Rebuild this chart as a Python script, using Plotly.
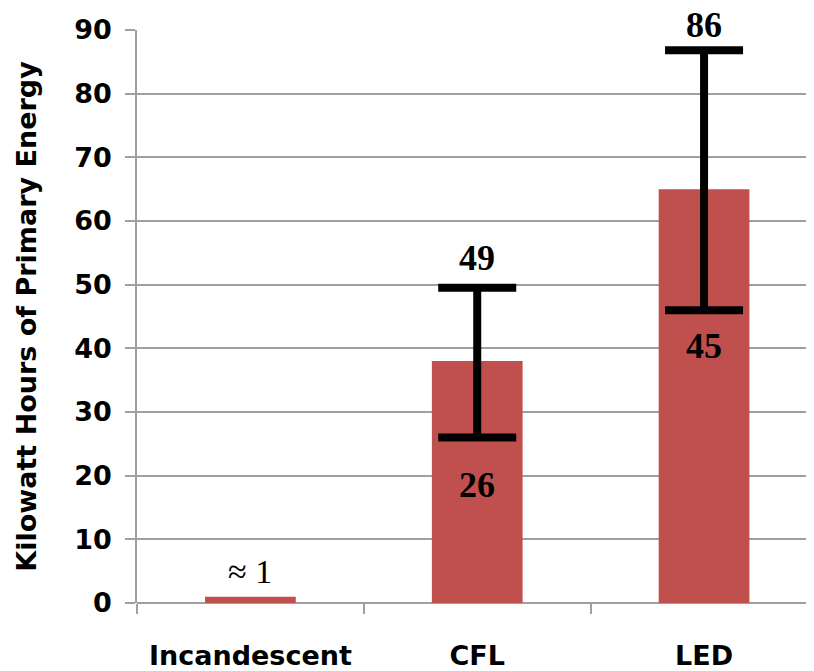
import plotly.graph_objects as go

categories = ["Incandescent", "CFL", "LED"]
values = [1, 38, 65]
err_cats = ["CFL", "LED"]
err_base = [38, 65]
err_high = [49.5, 86.8]
err_low = [26, 46]
label_text = ["49", "26", "86", "45"]
label_cat = ["CFL", "CFL", "LED", "LED"]
label_y = [54.2, 18.6, 90, 40.3]
label_shift = [0, 0, 5, 0]
approx_text = "≈ 1"
approx_y = 4.9
y_ticks = [0, 10, 20, 30, 40, 50, 60, 70, 80, 90]

fig = go.Figure()
fig.add_trace(go.Bar(
    x=categories, y=values, width=0.4,
    marker=dict(color="#C0504D", line=dict(width=0)),
    showlegend=False, hoverinfo="skip",
))
fig.add_trace(go.Scatter(
    x=err_cats, y=err_base, mode="markers",
    marker=dict(size=1, color="rgba(0,0,0,0)"),
    error_y=dict(
        type="data", symmetric=False,
        array=[h - b for h, b in zip(err_high, err_base)],
        arrayminus=[b - l for b, l in zip(err_base, err_low)],
        color="black", thickness=8, width=39,
    ),
    showlegend=False, hoverinfo="skip", cliponaxis=False,
))

annotations = []
for t, c, y, s in zip(label_text, label_cat, label_y, label_shift):
    annotations.append(dict(
        x=c, y=y, yshift=s, text=t, showarrow=False, xref="x", yref="y",
        font=dict(family="Liberation Serif", size=36, color="black", weight="bold"),
        yanchor="middle",
    ))
annotations.append(dict(
    x="Incandescent", y=approx_y, text=approx_text, showarrow=False,
    font=dict(family="Liberation Serif", size=34, color="black"),
    yanchor="middle",
))

fig.update_layout(
    width=814, height=671,
    margin=dict(l=129, r=0, t=22, b=76),
    plot_bgcolor="white", paper_bgcolor="white",
    annotations=annotations,
    xaxis=dict(
        type="category", range=[-0.5, 2.52],
        showgrid=False, showline=False,
        ticks="outside", tickson="boundaries", ticklen=10, tickwidth=1.5, tickcolor="#A0A0A0",
        tickfont=dict(family="DejaVu Sans", size=27, color="black", weight="bold"),
        ticklabelstandoff=34,
    ),
    yaxis=dict(
        range=[0, 90], tickvals=y_ticks,
        showgrid=True, gridcolor="#A0A0A0", gridwidth=1.5,
        zeroline=True, zerolinecolor="#A0A0A0", zerolinewidth=1.5,
        showline=True, linecolor="#A0A0A0", linewidth=1.5,
        ticks="outside", ticklen=10, tickwidth=1.5, tickcolor="#A0A0A0",
        tickfont=dict(family="DejaVu Sans", size=27, color="black", weight="bold"),
        ticklabelstandoff=8,
        title=dict(text="Kilowatt Hours of Primary Energy",
                   font=dict(family="DejaVu Sans", size=27, color="black", weight="bold"),
                   standoff=30),
    ),
)

fig.write_html("out.html")
